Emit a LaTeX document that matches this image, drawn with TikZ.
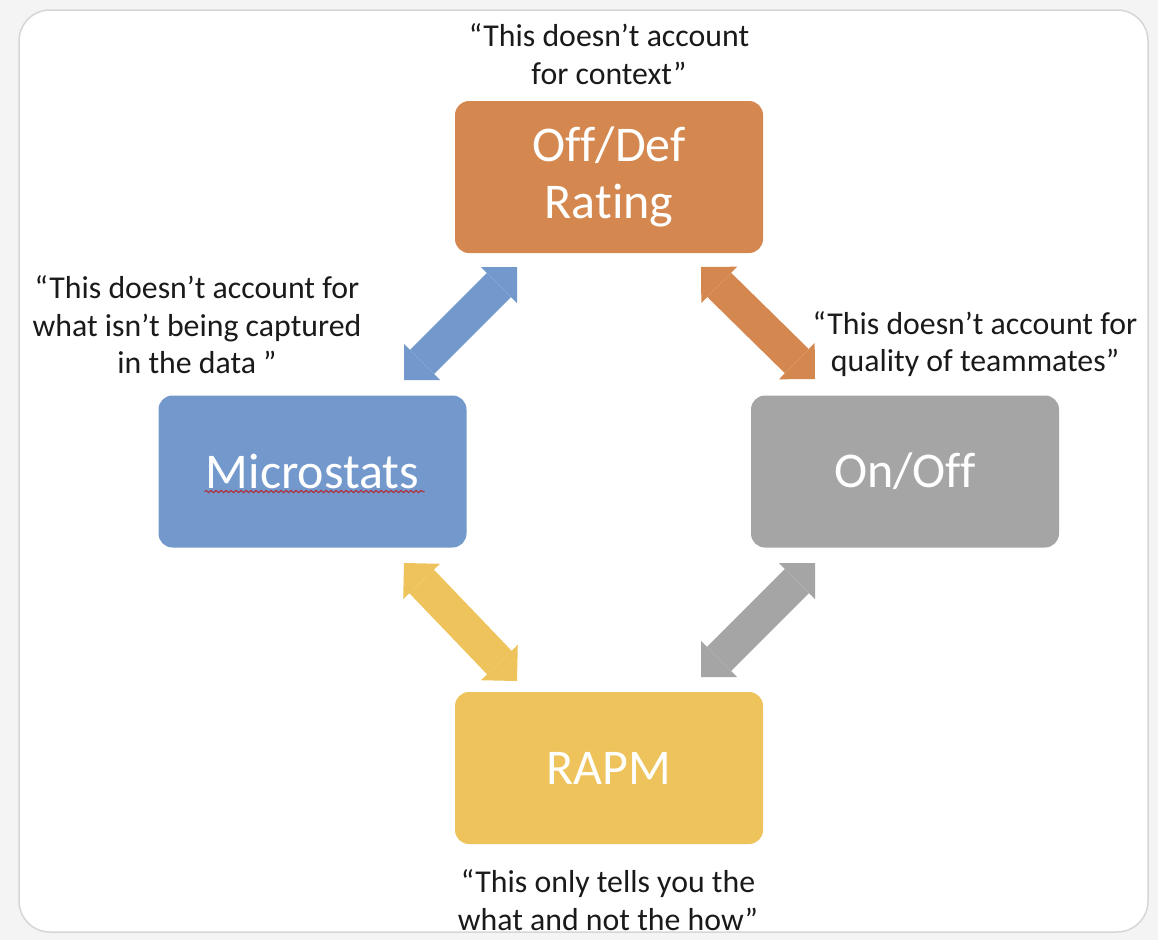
\documentclass[tikz,border=0pt]{standalone}
\usepackage{fontspec}
\setmainfont{Carlito}[Ligatures=NoCommon]
\usetikzlibrary{arrows.meta,decorations.pathmorphing,calc}
\definecolor{cbg}{HTML}{F4F4F5}
\definecolor{cframe}{HTML}{D5D6D8}
\definecolor{corange}{HTML}{D4884F}
\definecolor{cblue}{HTML}{7399CC}
\definecolor{cgray}{HTML}{A5A5A5}
\definecolor{cgold}{HTML}{EEC35B}
\definecolor{ctext}{HTML}{1A1A1A}
\definecolor{cspell}{HTML}{B0303A}
\begin{document}
\begin{tikzpicture}[x=1pt,y=-1pt,
  box/.style={draw=none, rounded corners=14pt, minimum width=308pt, minimum height=152pt,
    text=white, font=\fontsize{50}{57}\selectfont, align=center, inner sep=0pt},
  quotetext/.style={align=center, font=\fontsize{31.8}{37.5}\selectfont, text=ctext, inner sep=0pt},
  link/.style={line width=34pt,
    {Triangle[width=51pt,length=25.5pt,line width=0pt]}-{Triangle[width=51pt,length=25.5pt,line width=0pt]}}
]
\useasboundingbox (0,0) rectangle (1158,940);
\fill[cbg] (0,0) rectangle (1158,940);
\draw[draw=cframe, fill=white, line width=1.5pt, rounded corners=31pt] (19,10) rectangle (1148,932);

% boxes
\node[box, fill=corange] (off) at (609,177) {Off/Def\\Rating};
\node[box, fill=cblue] (micro) at (312.5,471.5) {Microstats};
\node[box, fill=cgray] (onoff) at (905,471.5) {On/Off};
\node[box, fill=cgold] (rapm) at (609,768) {RAPM};

% spell-check underline
\draw[cspell, line width=1.1pt, decorate, decoration={snake, segment length=5pt, amplitude=1.1pt}]
  ($(micro.center)+(-108,20)$) -- ($(micro.center)+(112,20)$);

% captions
\node[quotetext] (capoff) at (609,54) {“This doesn’t account\\for context”};
\node[quotetext] (capmicro) at (197,325) {“This doesn’t account for\\what isn’t being captured\\in the data ”};
\node[quotetext] (caponoff) at (975,344) {“This doesn’t account for\\quality of teammates”};
\node[quotetext] (caprapm) at (608,900) {“This only tells you the\\what and not the how”};

% arrow end points
\coordinate (b1) at (517,267); \coordinate (b2) at (404,380);
\coordinate (o1) at (701,267); \coordinate (o2) at (815,379);
\coordinate (y1) at (404,563); \coordinate (y2) at (517,681);
\coordinate (g1) at (815,563); \coordinate (g2) at (701,677);

\draw[link, cblue] (b1) -- (b2);
\draw[link, corange] (o1) -- (o2);
\draw[link, cgold] (y1) -- (y2);
\draw[link, cgray] (g1) -- (g2);
\end{tikzpicture}
\end{document}
